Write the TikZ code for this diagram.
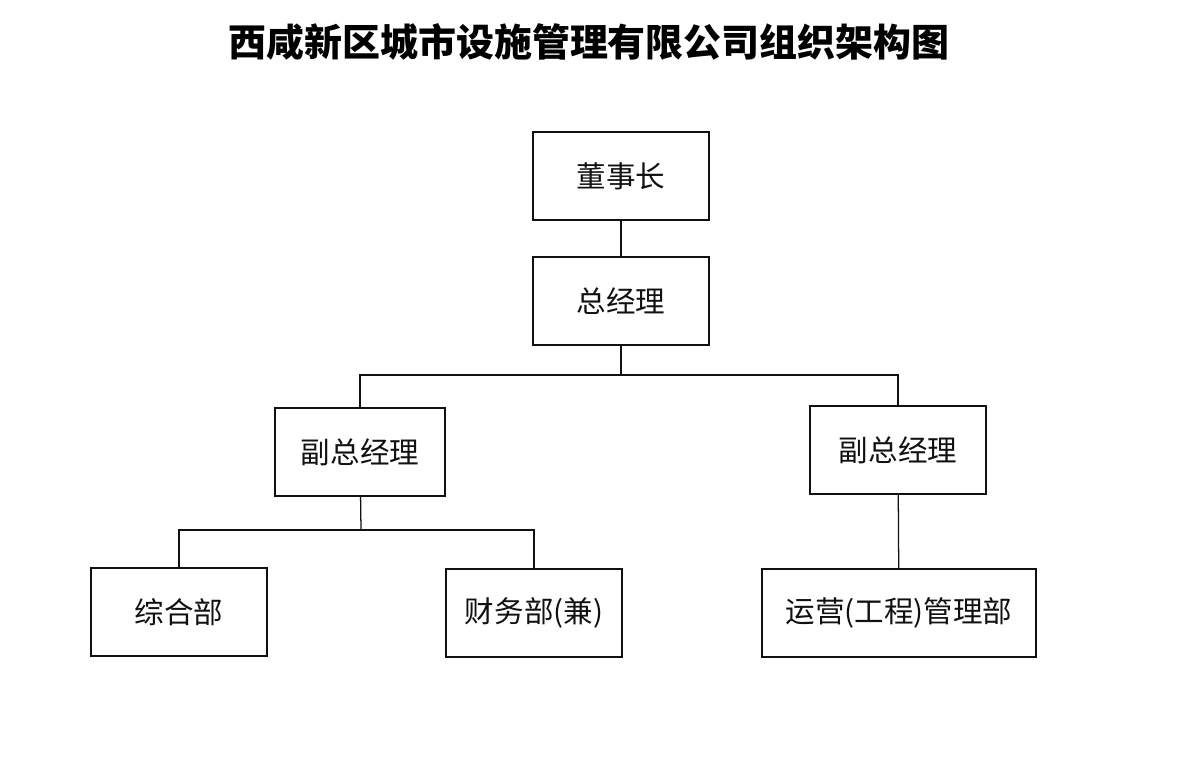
\documentclass[tikz,border=0pt]{standalone}
\usepackage{fontspec}
\usetikzlibrary{positioning}
\newfontfamily\cjk{Noto Sans CJK SC}
\definecolor{ink}{HTML}{111111}
\tikzset{
  unit/.style={draw=ink,line width=0.9pt,fill=white,minimum width=4.4cm,minimum height=2.2cm,
    inner sep=0pt,align=center,font=\cjk\fontsize{21pt}{24pt}\selectfont,text=ink},
  link/.style={draw=ink,line width=0.9pt}
}
\begin{document}
\begin{tikzpicture}[x=0.025cm,y=-0.025cm]
  \useasboundingbox (0,0) rectangle (1193,760);
  \node[font=\cjk\bfseries\fontsize{27pt}{30pt}\selectfont,text=black] (title) at (589,42) {西咸新区城市设施管理有限公司组织架构图};

  \node[unit] (chair) at (621,176) {董事长};
  \node[unit] (gm) at (621,301) {总经理};
  \node[unit,minimum width=4.25cm] (vpl) at (360,452) {副总经理};
  \node[unit] (vpr) at (898,450) {副总经理};
  \node[unit] (admin) at (179,612) {综合部};
  \node[unit] (fin) at (534,613) {财务部(兼)};
  \node[unit,minimum width=6.85cm] (ops) at (899,613) {运营(工程)管理部};

  \coordinate (split1) at (621,375);
  \coordinate (split2) at (361,530);

  \draw[link] (chair) -- (gm);
  \draw[link] (gm) -- (split1);
  \draw[link] (vpl.north) |- (split1) -| (vpr.north);
  \draw[link] (vpl) -- (split2);
  \draw[link] (admin.north) |- (split2) -| (fin.north);
  \draw[link] (vpr) -- (ops);
\end{tikzpicture}
\end{document}
